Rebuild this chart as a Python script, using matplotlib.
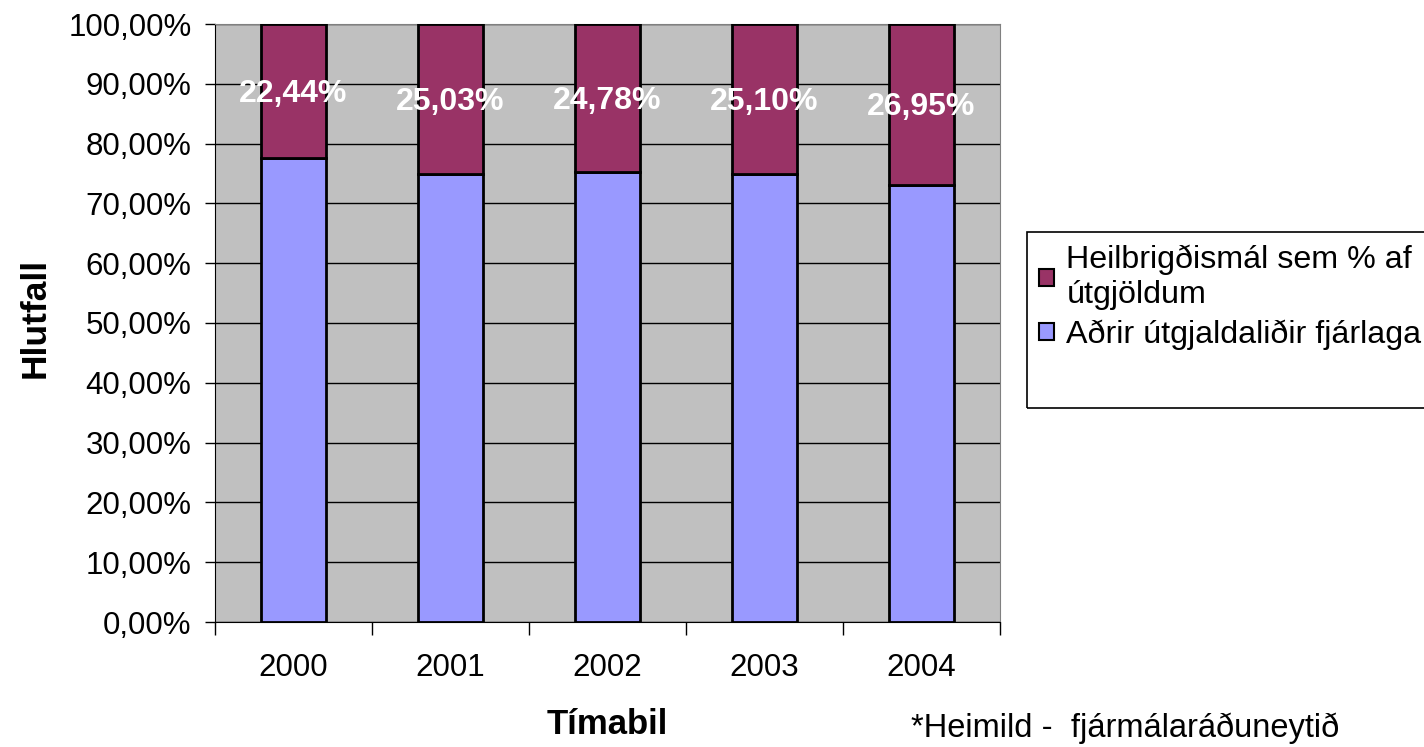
import matplotlib
matplotlib.use("Agg")
import matplotlib.pyplot as plt
from matplotlib.patches import Rectangle, Patch
import numpy as np

plt.rcParams['font.family'] = ['Liberation Sans', 'DejaVu Sans']

years = ["2000", "2001", "2002", "2003", "2004"]
health = [22.44, 25.03, 24.78, 25.10, 26.95]
other = [100 - h for h in health]
health_label = "Heilbrigðismál sem % af\nútgjöldum"
other_label = "Aðrir útgjaldaliðir fjárlaga"

col_health = "#993366"
col_other = "#9999FF"

fig = plt.figure(figsize=(14.24, 7.47), dpi=100)
ax = fig.add_axes([215 / 1424, 1 - 622 / 747, 785 / 1424, 598 / 747])
ax.set_facecolor("#C0C0C0")

x = np.arange(len(years))
w = 0.414
ax.bar(x, other, w, color=col_other, edgecolor="black", linewidth=2.0, zorder=3)
ax.bar(x, health, w, bottom=other, color=col_health, edgecolor="black", linewidth=2.0, zorder=3)

for xi, h, o in zip(x, health, other):
    ax.annotate(f"{h:.2f}%".replace(".", ","), (xi, o + h / 2), xytext=(0, -2),
                textcoords="offset points", ha="center", va="center",
                color="white", fontsize=23, fontweight="bold", zorder=4)

ax.set_xlim(-0.5, len(years) - 0.5)
ax.set_ylim(0, 100)
ax.set_yticks(np.arange(0, 101, 10))
ax.set_yticklabels([f"{v:.2f}%".replace(".", ",") for v in np.arange(0, 101, 10)], fontsize=22.5)
ax.yaxis.grid(True, color="black", linewidth=1.0, zorder=1)
ax.set_axisbelow(True)

ax.set_xticks(x)
ax.set_xticklabels(years, fontsize=22.5)
ax.tick_params(axis="x", length=0, pad=22)
ax.set_xticks(np.arange(-0.5, len(years)), minor=True)
ax.tick_params(axis="x", which="minor", length=9, width=1, color="black")
ax.tick_params(axis="y", length=7, width=1, pad=10)

for s in ["top", "right"]:
    ax.spines[s].set_color("#808080")
for s in ["left", "bottom"]:
    ax.spines[s].set_color("black")

ax.set_xlabel("Tímabil", fontsize=25, fontweight="bold", labelpad=18)
fig.text(35 / 1424, 1 - 318 / 747, "Hlutfall", rotation=90, fontsize=25.5, fontweight="bold",
         ha="center", va="center")

# legend frame drawn by hand, Excel leaves extra space below the entries
fig.patches.append(Rectangle((1027 / 1424, 1 - 408 / 747), 400 / 1424, 176 / 747,
                             transform=fig.transFigure, fill=False, edgecolor="black",
                             linewidth=1.2))
handles = [Patch(facecolor=col_health, edgecolor="black", linewidth=1.5),
           Patch(facecolor=col_other, edgecolor="black", linewidth=1.5)]
fig.legend(handles, [health_label, other_label], loc="upper left",
           bbox_to_anchor=(1039 / 1424, 1 - 245 / 747), frameon=False, fontsize=23.2,
           handlelength=0.45, handleheight=0.45, handletextpad=0.4, labelspacing=0.3,
           borderpad=0, borderaxespad=0)

fig.text(1125 / 1424, 1 - 728 / 747, "*Heimild -  fjármálaráðuneytið", fontsize=23.5,
         ha="center", va="center")

fig.savefig("out.png", dpi=100)
